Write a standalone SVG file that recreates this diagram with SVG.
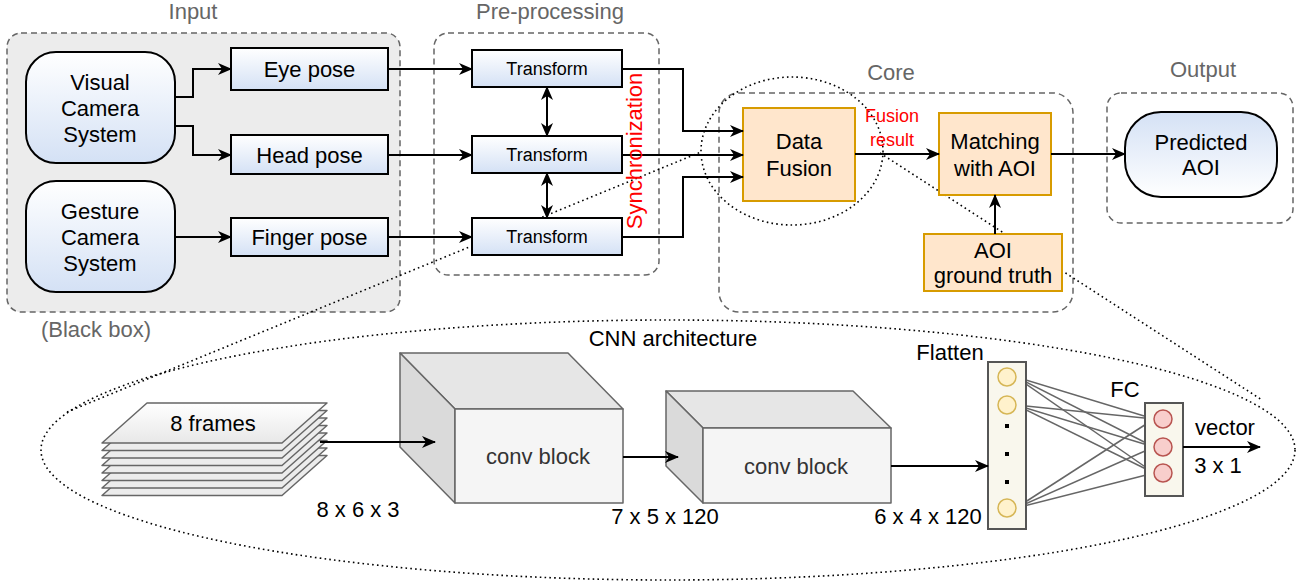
<svg xmlns="http://www.w3.org/2000/svg" width="1302" height="585" viewBox="0 0 1302 585">
<style>
text{font-family:"Liberation Sans",Arial,sans-serif;font-size:22px;fill:#000;text-anchor:middle}
.lbl{fill:#666}
.red{fill:#ff0000}
.sm{font-size:18px}
.cont{fill:none;stroke:#666;stroke-width:1.5;stroke-dasharray:6,4}
.blue{fill:url(#gB);stroke:#000;stroke-width:2}
.blueR{fill:url(#gBR);stroke:#000;stroke-width:2}
.org{fill:#ffe6cc;stroke:#d79b00;stroke-width:2}
.con{fill:none;stroke:#000;stroke-width:2}
.arr{marker-end:url(#ah)}
.dbl{marker-end:url(#ah);marker-start:url(#ah)}
.dot{fill:none;stroke:#000;stroke-width:1.6;stroke-dasharray:1.6,3.2}
.cube{stroke:#666;stroke-width:1.5;stroke-linejoin:round}
.sheet{fill:#ececec;stroke:#666;stroke-width:1.5;stroke-linejoin:round}
.nn{stroke:#666;stroke-width:1.5}
.yc{fill:#fff2cc;stroke:#d6b656;stroke-width:1.5}
.rc{fill:#f8cecc;stroke:#b85450;stroke-width:1.5}
.panel{fill:#f9f7ed;stroke:#555;stroke-width:2}
</style>
<defs>
<linearGradient id="gB" x1="0" y1="0" x2="0" y2="1"><stop offset="0" stop-color="#ffffff"/><stop offset="1" stop-color="#d4e1f5"/></linearGradient>
<linearGradient id="gBR" x1="0" y1="0" x2="0" y2="1"><stop offset="0" stop-color="#d4e1f5"/><stop offset="1" stop-color="#ffffff"/></linearGradient>
<linearGradient id="gS" x1="0" y1="0" x2="0" y2="1"><stop offset="0" stop-color="#ffffff"/><stop offset="1" stop-color="#e8e8e8"/></linearGradient>
<marker id="ah" viewBox="0 0 14 12" markerWidth="14" markerHeight="12" refX="13" refY="6" orient="auto-start-reverse" markerUnits="userSpaceOnUse"><path d="M0,0 L14,6 L0,12 L4,6 Z" fill="#000"/></marker>
</defs>

<g id="containers">
<rect id="input-box" x="7" y="33" width="393" height="279" rx="14" class="cont" style="fill:#ececec"/>
<rect id="pre-box" x="434" y="33" width="225" height="242" rx="14" class="cont"/>
<rect id="core-box" x="719" y="93" width="354" height="219" rx="20" class="cont"/>
<rect id="output-box" x="1107" y="93" width="186" height="130" rx="14" class="cont"/>
<text x="193" y="19" class="lbl">Input</text>
<text x="550" y="19" class="lbl">Pre-processing</text>
<text x="891" y="80" class="lbl">Core</text>
<text x="1203" y="77" class="lbl">Output</text>
<text x="96" y="337" class="lbl">(Black box)</text>
</g>

<g id="zoom-outline">
<ellipse cx="792" cy="151" rx="91" ry="74" class="dot"/>
<ellipse cx="668" cy="450" rx="627" ry="130" class="dot"/>
<line x1="67" y1="412" x2="701" y2="152" class="dot"/>
<line x1="880" y1="153" x2="1262" y2="400" class="dot"/>
</g>

<g id="visual-camera"><rect x="26" y="52" width="149" height="111" rx="30" class="blue"/><text x="100" y="90">Visual</text><text x="100" y="116">Camera</text><text x="100" y="142">System</text></g>
<g id="gesture-camera"><rect x="26" y="181" width="149" height="111" rx="30" class="blue"/><text x="100" y="219">Gesture</text><text x="100" y="245">Camera</text><text x="100" y="271">System</text></g>
<g id="eye-pose"><rect x="231" y="48" width="157" height="42" class="blue"/><text x="309.5" y="77">Eye pose</text></g>
<g id="head-pose"><rect x="231" y="135" width="157" height="39" class="blue"/><text x="309.5" y="163">Head pose</text></g>
<g id="finger-pose"><rect x="231" y="218" width="157" height="38" class="blue"/><text x="309.5" y="245">Finger pose</text></g>
<g id="transform-1"><rect x="472" y="50" width="150" height="37" class="blue"/><text x="547" y="75" class="sm">Transform</text></g>
<g id="transform-2"><rect x="472" y="136" width="150" height="37" class="blue"/><text x="547" y="161" class="sm">Transform</text></g>
<g id="transform-3"><rect x="472" y="218" width="150" height="37" class="blue"/><text x="547" y="243" class="sm">Transform</text></g>
<g id="data-fusion"><rect x="743" y="108" width="112" height="93" class="org"/><text x="799" y="149">Data</text><text x="799" y="176">Fusion</text></g>
<g id="matching"><rect x="939" y="113" width="112" height="82" class="org"/><text x="995" y="149">Matching</text><text x="995" y="176">with AOI</text></g>
<g id="aoi-gt"><rect x="924" y="234" width="138" height="57" class="org"/><text x="993" y="258">AOI</text><text x="993" y="283">ground truth</text></g>
<g id="predicted-aoi"><rect x="1125" y="112" width="152" height="85" rx="36" class="blueR"/><text x="1201" y="150">Predicted</text><text x="1201" y="175">AOI</text></g>

<g id="cnn">
<text x="673" y="346">CNN architecture</text>
<g id="frames">
<polygon points="147,455.5 327,455.5 282,495.5 102,495.5" class="sheet"/>
<polygon points="147,448 327,448 282,488 102,488" class="sheet"/>
<polygon points="147,440.5 327,440.5 282,480.5 102,480.5" class="sheet"/>
<polygon points="147,433 327,433 282,473 102,473" class="sheet"/>
<polygon points="147,425.5 327,425.5 282,465.5 102,465.5" class="sheet"/>
<polygon points="147,418 327,418 282,458 102,458" class="sheet"/>
<polygon points="147,410.5 327,410.5 282,450.5 102,450.5" class="sheet"/>
<polygon points="147,403 327,403 282,443 102,443" class="sheet" style="fill:url(#gS)"/>
<text x="213" y="431">8 frames</text>
</g>
<text x="358" y="517">8 x 6 x 3</text>
<g id="conv-block-1">
<polygon points="400,353 568,353 623,409 455,409" class="cube" style="fill:#e6e6e6"/>
<polygon points="400,353 455,409 455,503 400,447" class="cube" style="fill:#dadada"/>
<rect x="455" y="409" width="168" height="94" class="cube" style="fill:#f5f5f5"/>
<text x="538" y="464" style="fill:#333">conv block</text>
</g>
<text x="665" y="524">7 x 5 x 120</text>
<g id="conv-block-2">
<polygon points="666,391 853,391 891,428 703,428" class="cube" style="fill:#e6e6e6"/>
<polygon points="666,391 703,428 703,503 666,466" class="cube" style="fill:#dadada"/>
<rect x="703" y="428" width="188" height="75" class="cube" style="fill:#f5f5f5"/>
<text x="796" y="474" style="fill:#333">conv block</text>
</g>
<text x="928" y="524">6 x 4 x 120</text>
<g id="fc-links">
<line x1="1016" y1="377" x2="1154" y2="419" class="nn"/>
<line x1="1016" y1="377" x2="1154" y2="447" class="nn"/>
<line x1="1016" y1="377" x2="1154" y2="473" class="nn"/>
<line x1="1016" y1="405" x2="1154" y2="419" class="nn"/>
<line x1="1016" y1="405" x2="1154" y2="447" class="nn"/>
<line x1="1016" y1="405" x2="1154" y2="473" class="nn"/>
<line x1="1016" y1="508" x2="1154" y2="419" class="nn"/>
<line x1="1016" y1="508" x2="1154" y2="447" class="nn"/>
<line x1="1016" y1="508" x2="1154" y2="473" class="nn"/>
</g>
<g id="flatten">
<rect x="988" y="362" width="38" height="167" class="panel"/>
<circle cx="1007" cy="377" r="9" class="yc"/>
<circle cx="1007" cy="405" r="9" class="yc"/>
<circle cx="1007" cy="508" r="9" class="yc"/>
<rect x="1005" y="424" width="4" height="4"/>
<rect x="1005" y="452" width="4" height="4"/>
<rect x="1005" y="480" width="4" height="4"/>
<text x="950" y="360">Flatten</text>
</g>
<g id="fc">
<rect x="1145" y="403" width="38" height="93" class="panel"/>
<circle cx="1163" cy="419" r="9" class="rc"/>
<circle cx="1163" cy="447" r="9" class="rc"/>
<circle cx="1163" cy="473" r="9" class="rc"/>
<text x="1125" y="397">FC</text>
</g>
<text x="1225" y="435">vector</text>
<text x="1218" y="473">3 x 1</text>
</g>

<g id="connectors">
<path d="M175,97 H193 V69 H231" class="con arr"/>
<path d="M175,126 H193 V155 H231" class="con arr"/>
<path d="M175,237 H231" class="con arr"/>
<path d="M388,69 H472" class="con arr"/>
<path d="M388,155 H472" class="con arr"/>
<path d="M388,237 H472" class="con arr"/>
<path d="M547,87 V136" class="con dbl"/>
<path d="M547,173 V218" class="con dbl"/>
<path d="M622,69 H683 V131 H743" class="con arr"/>
<path d="M622,155 H743" class="con arr"/>
<path d="M622,237 H683 V177 H743" class="con arr"/>
<path d="M855,154 H939" class="con arr"/>
<path d="M995,234 V195" class="con arr"/>
<path d="M1051,154 H1125" class="con arr"/>
<path d="M320,442 H435" class="con arr"/>
<path d="M623,457 H678" class="con arr"/>
<path d="M891,466 H988" class="con arr"/>
<path d="M1183,447 H1260" class="con arr"/>
</g>

<g id="labels">
<text transform="translate(642,151) rotate(-90)" class="red">Synchronization</text>
<text x="892" y="122" class="red sm">Fusion</text>
<text x="892" y="146" class="red sm">result</text>
</g>
</svg>
